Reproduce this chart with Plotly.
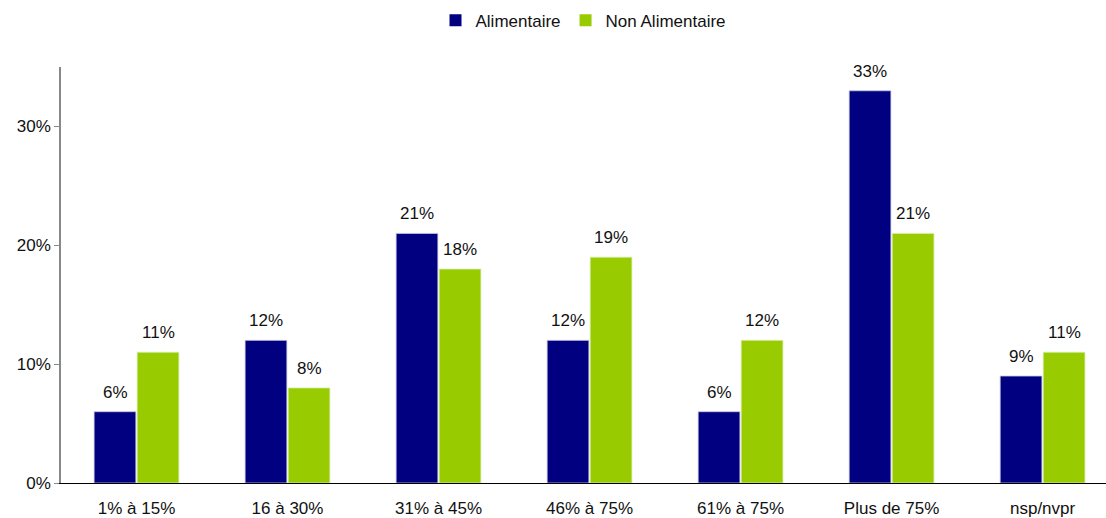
import plotly.graph_objects as go

categories = ["1% à 15%", "16 à 30%", "31% à 45%", "46% à 75%", "61% à 75%", "Plus de 75%", "nsp/nvpr"]
alimentaire = [6, 12, 21, 12, 6, 33, 9]
non_alimentaire = [11, 8, 18, 19, 12, 21, 11]

font = dict(family="Liberation Sans, Arial, sans-serif", size=17, color="#111111")
colors = {"Alimentaire": "#000080", "Non Alimentaire": "#99CC00"}
edges = {"Alimentaire": "#c8c8e0", "Non Alimentaire": "#d8ecb0"}

fig = go.Figure()
for name, series in (("Alimentaire", alimentaire), ("Non Alimentaire", non_alimentaire)):
    fig.add_trace(go.Bar(
        name=name, x=categories, y=series, showlegend=False,
        marker=dict(color=colors[name], line=dict(color=edges[name], width=0.8)),
    ))
# small square legend keys
for name in ("Alimentaire", "Non Alimentaire"):
    fig.add_trace(go.Scatter(
        name=name, x=[None], y=[None], mode="markers",
        marker=dict(symbol="square", size=9, color=colors[name]),
    ))

# value labels above each bar, shifted onto their own bar within the group
for series, shift in ((alimentaire, -21.5), (non_alimentaire, 21.5)):
    for cat, v in zip(categories, series):
        fig.add_annotation(
            x=cat, y=v, text=f"{v}%", showarrow=False,
            xshift=shift, yshift=8, yanchor="bottom", font=font,
        )

fig.update_layout(
    width=1106, height=518,
    margin=dict(l=61, r=0, t=67, b=35),
    paper_bgcolor="white", plot_bgcolor="white",
    barmode="group", bargap=0.43, bargroupgap=0.03,
    font=font,
    showlegend=True,
    legend=dict(orientation="h", x=0.5, xanchor="center", y=0.995, yanchor="top",
                yref="container", font=font, itemwidth=30, traceorder="normal",
                itemsizing="constant"),
)
fig.update_xaxes(
    type="category", range=[-0.5, 6.42],
    showline=True, linecolor="#000000", linewidth=1,
    ticks="", showgrid=False, tickfont=font, ticklabelstandoff=10,
)
fig.update_yaxes(
    range=[0, 35], tickvals=[0, 10, 20, 30], ticktext=["0%", "10%", "20%", "30%"],
    showline=True, linecolor="#888888", linewidth=1.5,
    ticks="outside", ticklen=5, tickcolor="#888888",
    showgrid=False, zeroline=False, tickfont=font,
)

fig.write_html("out.html")
